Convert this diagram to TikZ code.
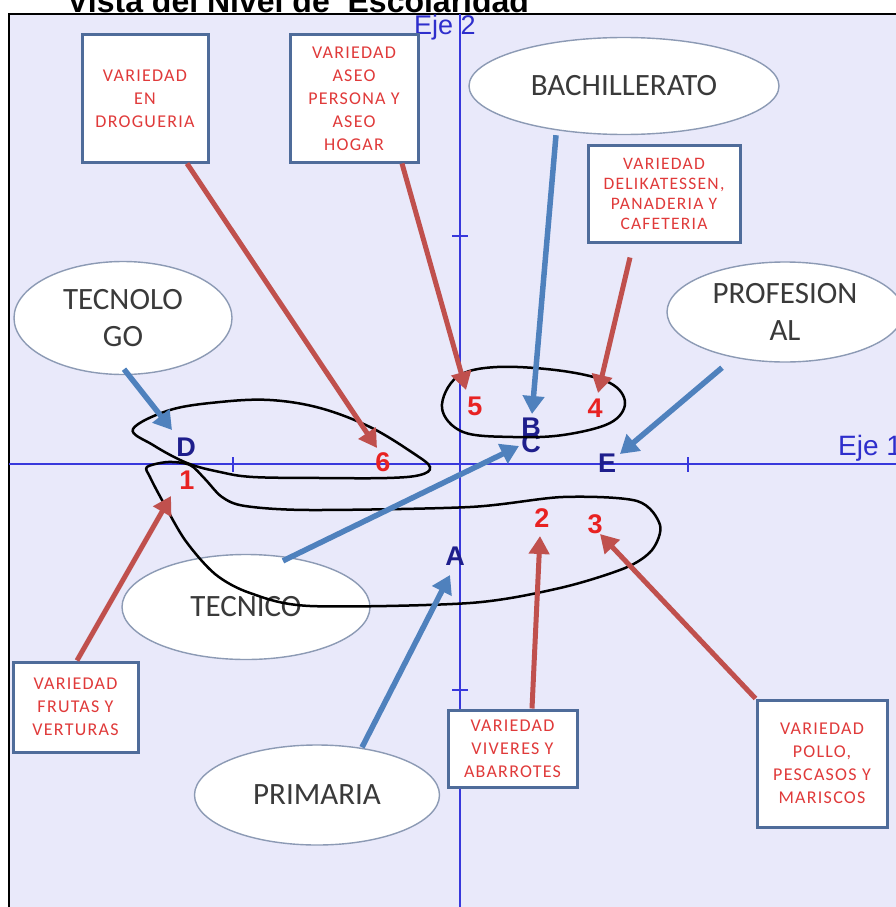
\documentclass[tikz,border=0pt]{standalone}
\usepackage{fontspec}
\setmainfont{Liberation Sans}
\newfontfamily\calfont{Carlito}
\newfontfamily\tagfont{Carlito}[LetterSpace=7]
\usetikzlibrary{arrows.meta,shapes.geometric}

\definecolor{plotbg}{HTML}{E9E9FA}
\definecolor{axisblue}{HTML}{3838DC}
\definecolor{axislabel}{HTML}{2E2ECC}
\definecolor{navy}{HTML}{1E1E8C}
\definecolor{ptred}{HTML}{E82222}
\definecolor{tagred}{HTML}{E03A3A}
\definecolor{boxedge}{HTML}{4F6C9A}
\definecolor{elledge}{HTML}{8C9AB4}
\definecolor{arrred}{HTML}{C0504D}
\definecolor{arrblue}{HTML}{4F81BD}
\definecolor{elltext}{HTML}{3A3A3A}

\tikzset{
  tagbox/.style={draw=boxedge, line width=3pt, fill=white, align=center,
    text=tagred, font=\tagfont\fontsize{18}{23}\selectfont, inner sep=0pt},
  oval/.style={ellipse, draw=elledge, line width=1.4pt, fill=white, align=center,
    text=elltext, font=\calfont\fontsize{31}{37}\selectfont, inner sep=0pt},
  ptn/.style={text=navy, font=\bfseries\fontsize{27}{27}\selectfont, inner sep=0pt},
  ptr/.style={text=ptred, font=\bfseries\fontsize{27}{27}\selectfont, inner sep=0pt},
  redarrow/.style={draw=arrred, line width=5pt, -{Triangle[length=18pt,width=20pt]}},
  bluearrow/.style={draw=arrblue, line width=5.5pt, -{Triangle[length=18pt,width=21pt]}},
  cluster/.style={draw=black, line width=2.5pt, smooth cycle, tension=0.6},
  axisline/.style={draw=axisblue, line width=2.5pt},
  tick/.style={draw=axisblue, line width=2pt},
  axlabel/.style={text=axislabel, font=\fontsize{28}{28}\selectfont, inner sep=0pt, anchor=base west},
}

\begin{document}
\begin{tikzpicture}[x=1pt, y=-1pt]
\useasboundingbox (0,0) rectangle (896,907);
\clip (0,0) rectangle (896,907);

% title, its top running off the page
\node[anchor=base west, inner sep=0pt, font=\bfseries\fontsize{32}{32}\selectfont] (title)
  at (67,12.5) {Vista del Nivel de\ \ Escolaridad};

% plot area
\fill[plotbg] (9,14) rectangle (896,907);
\draw[black, line width=2pt] (9,907) -- (9,14) -- (896,14);

% axes and ticks
\draw[axisline] (9,464) -- (896,464);
\draw[axisline] (460,14) -- (460,907);
\draw[tick] (233,457) -- (233,472);
\draw[tick] (688,457) -- (688,472);
\draw[tick] (452,236) -- (468,236);
\draw[tick] (452,690) -- (468,690);
\node[axlabel, font=\fontsize{27}{27}\selectfont] (eje2) at (414,35) {Eje 2};
\node[axlabel] (eje1) at (838,455) {Eje 1};

% category points
\node[ptn] (pD) at (186,447) {D};
\node[ptn] (pB) at (531,427) {B};
\node[ptn] (pC) at (531,443) {C};
\node[ptn] (pE) at (607,463) {E};
\node[ptn] (pA) at (455,556) {A};
\node[ptr] (p1) at (187,480) {1};
\node[ptr] (p6) at (383,462) {6};
\node[ptr] (p5) at (475,406) {5};
\node[ptr] (p4) at (595,408) {4};
\node[ptr] (p2) at (542,518) {2};
\node[ptr] (p3) at (595,524) {3};

% education levels
\node[oval, minimum width=310pt, minimum height=97pt] (bach) at (624,86) {BACHILLERATO};
\node[oval, minimum width=218pt, minimum height=113pt] (tecno) at (123,318) {TECNOLO\\GO};
\node[oval, minimum width=236pt, minimum height=100pt] (prof) at (785,312) {PROFESION\\AL};
\node[oval, minimum width=248pt, minimum height=105pt] (tecn) at (246,607) {TECNICO};
\node[oval, minimum width=245pt, minimum height=100pt] (prim) at (317,795) {PRIMARIA};

% groupings
\draw[cluster] plot coordinates {(133,429) (170,410) (220,402) (270,400) (320,408) (370,427)
  (413,453) (430,467) (420,475) (387,478) (320,478) (253,477) (220,472) (187,463) (153,445)};
\draw[cluster] plot coordinates {(442,408) (457,377) (497,367) (563,371) (610,383) (625,403)
  (610,423) (563,435) (513,437) (463,432)};
\draw[cluster, tension=0.5] plot coordinates {(147,467) (168,462) (190,465) (205,479) (222,497)
  (245,506) (310,510) (470,507) (563,497) (637,501) (660,525) (652,550) (625,568) (560,588)
  (470,603) (310,606) (250,593) (215,574) (185,540) (162,500) (150,477)};

% product varieties
\node[tagbox, minimum width=126pt, minimum height=127pt] (drog) at (145,98.5)
  {VARIEDAD\\EN\\DROGUERIA};
\node[tagbox, minimum width=128pt, minimum height=127pt] (aseo) at (354,98.5)
  {VARIEDAD\\ASEO\\PERSONA Y\\ASEO\\HOGAR};
\node[tagbox, minimum width=152pt, minimum height=97pt, font=\tagfont\fontsize{17.5}{20}\selectfont]
  (delik) at (664,193.5) {VARIEDAD\\DELIKATESSEN,\\PANADERIA Y\\CAFETERIA};
\node[tagbox, minimum width=125pt, minimum height=90pt] (frut) at (75.5,707)
  {VARIEDAD\\FRUTAS Y\\VERTURAS};
\node[tagbox, minimum width=129pt, minimum height=77pt] (viv) at (512.5,748.5)
  {VARIEDAD\\VIVERES Y\\ABARROTES};
\node[tagbox, minimum width=130pt, minimum height=127pt] (pollo) at (822,763.5)
  {VARIEDAD\\POLLO,\\PESCASOS Y\\MARISCOS};

% arrow tips
\coordinate (t6) at (377,448);
\coordinate (t5) at (466,390);
\coordinate (t4) at (598,393);
\coordinate (t1) at (171,496);
\coordinate (t2) at (540,536);
\coordinate (t3) at (600,534);
\coordinate (tB) at (532,414);
\coordinate (tD) at (172,430);
\coordinate (tE) at (620,454);
\coordinate (tC) at (519,446);
\coordinate (tA) at (450,575);

% varieties pointing at their positions
\draw[redarrow] ([xshift=42pt]drog.south) -- (t6);
\draw[redarrow] ([xshift=48pt]aseo.south) -- (t5);
\draw[redarrow] ([xshift=-34pt,yshift=-14pt]delik.south) -- (t4);
\draw[redarrow] ([xshift=1.5pt]frut.north) -- (t1);
\draw[redarrow] ([xshift=19.5pt]viv.north) -- (t2);
\draw[redarrow] (pollo.north west) -- (t3);

% levels pointing at their positions
\draw[bluearrow] ([xshift=-68pt]bach.south) -- (tB);
\draw[bluearrow] ([xshift=1pt,yshift=6pt]tecno.south) -- (tD);
\draw[bluearrow] ([xshift=-63pt,yshift=-5pt]prof.south) -- (tE);
\draw[bluearrow] ([xshift=37pt,yshift=-7pt]tecn.north) -- (tC);
\draw[bluearrow] ([xshift=45pt,yshift=-3pt]prim.north) -- (tA);
\end{tikzpicture}
\end{document}
